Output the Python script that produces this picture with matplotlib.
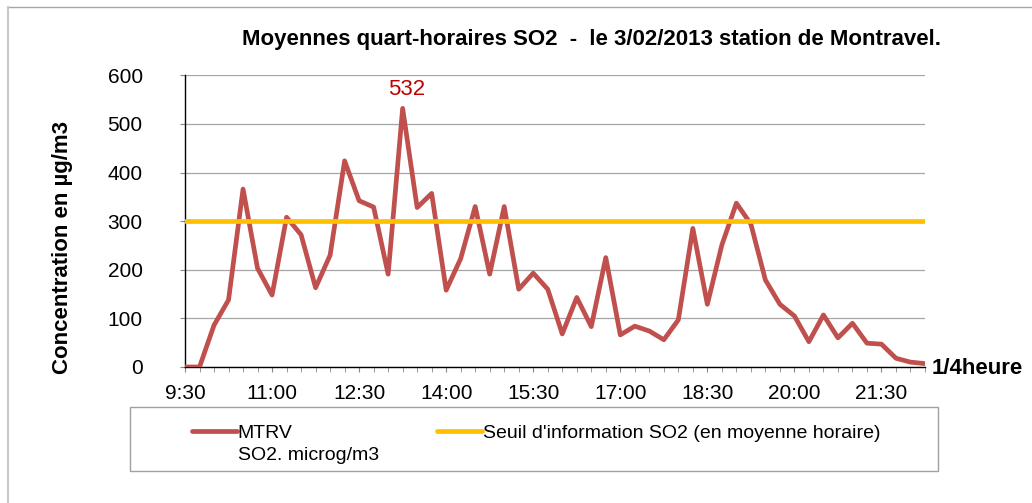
import numpy as np
import matplotlib
matplotlib.use("Agg")
import matplotlib.pyplot as plt
from matplotlib.lines import Line2D
from matplotlib.patches import Rectangle

plt.rcParams['font.family'] = ['Liberation Sans', 'DejaVu Sans']

# quarter-hour means SO2, MTRV station, 9:30 -> 22:15
mtrv = [0, 0, 86, 138, 366, 203, 148, 308, 272, 163,
        230, 424, 342, 329, 191, 532, 328, 357, 158, 223,
        330, 191, 330, 160, 193, 160, 68, 143, 83, 225,
        66, 84, 74, 56, 97, 285, 129, 251, 337, 294,
        179, 129, 105, 52, 107, 60, 90, 49, 47, 18,
        10, 7]
seuil = [300] * len(mtrv)
tick_labels = ['9:30', '11:00', '12:30', '14:00', '15:30',
               '17:00', '18:30', '20:00', '21:30']
y_ticks = [0, 100, 200, 300, 400, 500, 600]

W, H = 1032, 503
fig = plt.figure(figsize=(W / 100, H / 100), dpi=100)
ax = fig.add_axes([185 / W, 1 - 367 / H, 740 / W, 291.7 / H])

x = np.arange(len(mtrv))
l1, = ax.plot(x, mtrv, color='#C0504D', lw=3.4, solid_joinstyle='round',
              solid_capstyle='round', zorder=3)
l2, = ax.plot(x, seuil, color='#FFC000', lw=3.4, solid_capstyle='round',
              zorder=4)

ax.set_xlim(0, len(mtrv) - 1)
ax.set_ylim(0, 600)
ax.set_yticks(y_ticks)
ax.set_xticks(x, minor=True)
ax.set_xticks(x[::6])
ax.set_xticklabels(tick_labels)

ax.grid(axis='y', color='#A6A6A6', lw=0.9)
ax.set_axisbelow(True)
for s in ['top', 'right']:
    ax.spines[s].set_visible(False)
ax.spines['left'].set_color('black')
ax.spines['bottom'].set_color('black')
ax.spines['left'].set_linewidth(1)
ax.spines['bottom'].set_linewidth(1)

ax.tick_params(axis='y', length=3.5, color='#888888', pad=27, labelsize=15)
ax.tick_params(axis='x', which='both', length=3.5, color='#888888', pad=9,
               labelsize=15)

ax.set_ylabel('Concentration en µg/m3', fontsize=16, fontweight='bold')
ax.yaxis.set_label_coords(-0.151, 0.411)

# peak value
i_max = int(np.argmax(mtrv))
ax.annotate(str(mtrv[i_max]), xy=(i_max, mtrv[i_max]), xytext=(3, 6),
            textcoords='offset points', ha='center', va='bottom',
            color='#C00000', fontsize=16)

fig.text(591 / W, 1 - 40 / H,
         'Moyennes quart-horaires SO2  -  le 3/02/2013 station de Montravel.',
         ha='center', va='center', fontsize=16, fontweight='bold')
fig.text(932 / W, 1 - 368 / H, '1/4heure', ha='left', va='center',
         fontsize=16, fontweight='bold')

# legend
leg = fig.legend([l1, l2], ['MTRV', "Seuil d'information SO2 (en moyenne horaire)"],
                 ncol=2, frameon=False, loc='center left',
                 bbox_to_anchor=(192 / W, 1 - 433 / H), fontsize=14,
                 handlelength=2.3, handletextpad=0.05, columnspacing=7.45,
                 borderpad=0, borderaxespad=0)
fig.text(238 / W, 1 - 455 / H, 'SO2. microg/m3', ha='left', va='center',
         fontsize=14)
fig.add_artist(Rectangle((130 / W, 1 - 471 / H), 808 / W, 64 / H,
                         transform=fig.transFigure, fill=False,
                         edgecolor='#A0A0A0', lw=1))

# outer chart border (top and left)
fig.add_artist(Line2D([8 / W, 1], [1 - 7 / H, 1 - 7 / H],
                      transform=fig.transFigure, color='#A6A6A6', lw=1))
fig.add_artist(Line2D([8 / W, 8 / W], [0, 1 - 7 / H],
                      transform=fig.transFigure, color='#C8C8C8', lw=1.5))

fig.savefig('out.png', dpi=100)
